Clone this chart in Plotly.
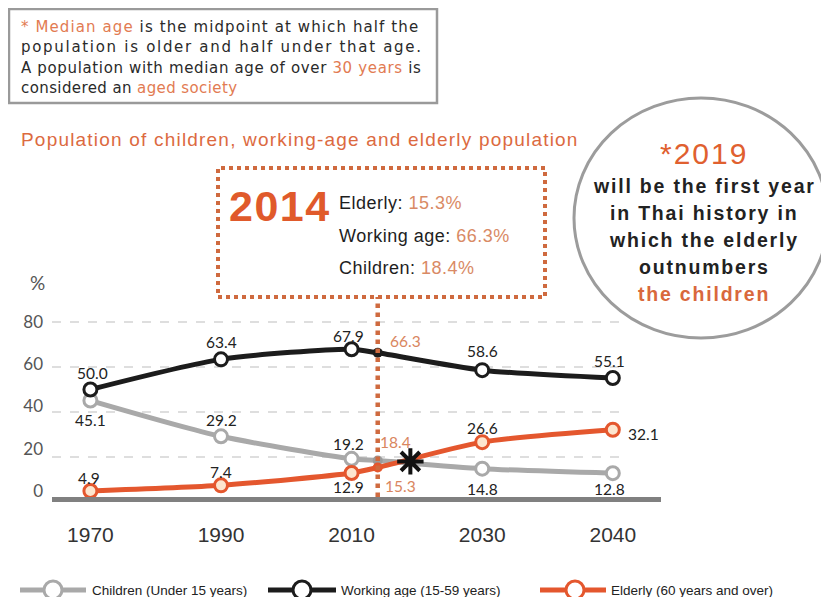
import numpy as np
import plotly.graph_objects as go

# ---------------- data ----------------
years = [1970, 1990, 2010, 2030, 2040]
year_labels = ["1970", "1990", "2010", "2030", "2040"]
children = [45.1, 29.2, 19.2, 14.8, 12.8]
working = [50.0, 63.4, 67.9, 58.6, 55.1]
elderly = [4.9, 7.4, 12.9, 26.6, 32.1]

highlight_year = 2014
hl_children = 18.4
hl_working = 66.3
hl_elderly = 15.3
crossover_year = 2019

y_ticks = [0, 20, 40, 60, 80]

# ---------------- geometry helpers ----------------
# the page body has an 8px default margin, so page pixel p -> figure pixel p-8
OFF = 8
W, H = 829, 597
PLOT_L, PLOT_R, PLOT_T, PLOT_B = 52, 661, 300, 497   # page pixels of the plot area
ML = PLOT_L - OFF
MT = PLOT_T - OFF
MR = W - (PLOT_R - OFF)
MB = H - (PLOT_B - OFF)
PW, PH = PLOT_R - PLOT_L, PLOT_B - PLOT_T


def X(px):
    return (px - PLOT_L) / PW


def Y(py):
    return (PLOT_B - py) / PH


def yrange(y80_px, y0_px):
    # value range of an axis whose 80 sits at y80_px and 0 at y0_px (page pixels)
    ppu = (y0_px - y80_px) / 80.0
    lo = (y0_px - PLOT_B) / ppu
    return [lo, lo + PH / ppu]


idx = list(range(len(years)))


def pos(year):
    return float(np.interp(year, years, idx))


hx = pos(highlight_year)


def with_hl(vals, hv):
    xs = idx[:3] + [hx] + idx[3:]
    ys = vals[:3] + [hv] + vals[3:]
    return xs, ys


def ls(text, px):
    return f"<span style='letter-spacing:{px}px'>{text}</span>"


GRAY = "#a9a9a9"
BLACK = "#1c1c1c"
ORANGE = "#e4572e"
DOT = "#cf6a3f"

fig = go.Figure()

series = [
    ("Children (Under 15 years)", children, hl_children, GRAY, "white"),
    ("Working age (15-59 years)", working, hl_working, BLACK, "white"),
    ("Elderly (60 years and over)", elderly, hl_elderly, ORANGE, "#fde6cf"),
]
for name, vals, hv, col, fill in series:
    xs, ys = with_hl(vals, hv)
    fig.add_trace(go.Scatter(x=xs, y=ys, mode="lines", line=dict(color=col, width=5, shape="spline", smoothing=0.7),
                             showlegend=False, hoverinfo="skip", cliponaxis=False))
    fig.add_trace(go.Scatter(x=idx, y=vals, mode="markers", name=name,
                             marker=dict(size=13, color=fill, line=dict(color=col, width=3)),
                             showlegend=False, cliponaxis=False))
    fig.add_trace(go.Scatter(x=[hx], y=[hv], mode="markers",
                             marker=dict(size=10, color=col if col != GRAY else "#9a9a9a"),
                             showlegend=False, cliponaxis=False))

# crossover asterisk
cx = pos(crossover_year)
cy = (float(np.interp(crossover_year, [highlight_year, years[3]], [hl_children, children[3]])) +
      float(np.interp(crossover_year, [highlight_year, years[3]], [hl_elderly, elderly[3]]))) / 2
fig.add_trace(go.Scatter(x=[cx], y=[cy], mode="markers",
                         marker=dict(symbol="asterisk-open", size=22, color="#111", line=dict(color="#111", width=4)),
                         showlegend=False, cliponaxis=False))

# invisible trace that carries the tick-label axis
fig.add_trace(go.Scatter(x=[idx[0]], y=[y_ticks[0]], yaxis="y2", mode="markers",
                         marker=dict(opacity=0), showlegend=False, hoverinfo="skip"))

anns = []
LBL = dict(family="Lato, DejaVu Sans, sans-serif", size=15.5, color="#222")
LBL_O = dict(family="Lato, DejaVu Sans, sans-serif", size=15.5, color="#d98660")

# data labels (dx, dy in pixels, dy positive = up)
work_off = [(2, 17), (0, 17), (-3, 13), (0, 19), (-3, 17)]
child_off = [(0, -19), (0, 16), (-3, 15), (0, -20), (-3, -16)]
eld_off = [(-1, 13), (0, 13), (-3, -14), (0, 14), (31, -4)]
for vals, offs in [(working, work_off), (children, child_off), (elderly, eld_off)]:
    for i, v in enumerate(vals):
        dx, dy = offs[i]
        anns.append(dict(x=idx[i], y=v, xref="x", yref="y", text=f"{v:.1f}", showarrow=False,
                         xanchor="center", yanchor="middle", xshift=dx, yshift=dy, font=LBL))
anns.append(dict(x=hx, y=hl_working, text=f"{hl_working:.1f}", showarrow=False, xanchor="center", yanchor="middle",
                 xshift=28, yshift=12, font=LBL_O))
anns.append(dict(x=hx, y=hl_children, text=f"{hl_children:.1f}", showarrow=False, xanchor="center",
                 yanchor="middle", xshift=18, yshift=19, font=LBL_O))
anns.append(dict(x=hx, y=hl_elderly, text=f"{hl_elderly:.1f}", showarrow=False, xanchor="center",
                 yanchor="middle", xshift=23, yshift=-18, font=LBL_O))


def pann(px, py, text, font, xanchor="left"):
    anns.append(dict(x=X(px), y=Y(py), xref="paper", yref="paper", text=text, showarrow=False,
                     xanchor=xanchor, yanchor="middle", font=font))


# % label
pann(37, 282, "%", dict(family="Lato, sans-serif", size=19, color="#555"), "center")

# info box text (justified look via per-line spacing)
OR_TXT = "#e27b52"
box_lines = [
    f"<span style='color:{OR_TXT}'>* Median age</span> is the midpoint at which half the",
    "population is older and half under that age.",
    f"A population with median age of over <span style='color:{OR_TXT}'>30 years</span> is",
    f"considered an <span style='color:{OR_TXT}'>aged society</span>",
]
box_spacing = [1.1, 1.7, 0.65, 0.4]
for i, t in enumerate(box_lines):
    pann(19, 27 + i * 20.3, ls(t, box_spacing[i]), dict(family="DejaVu Sans, sans-serif", size=15, color="#2a2a2a"))

# chart title
pann(19, 139, ls("Population of children, working-age and elderly population", 1.2),
     dict(family="Liberation Sans, Arial, sans-serif", size=19, color="#dc6a3f"))

# 2014 box
pann(227, 206, ls(f"<b>{highlight_year}</b>", 1.5),
     dict(family="Liberation Sans, Arial, sans-serif", size=43, color="#e05a2b"))
OV = "#d98a65"
box2 = [
    f"Elderly: <span style='color:{OV}'>{hl_elderly}%</span>",
    f"Working age: <span style='color:{OV}'>{hl_working}%</span>",
    f"Children: <span style='color:{OV}'>{hl_children}%</span>",
]
for i, t in enumerate(box2):
    pann(337, 203 + i * 32.5, ls(t, 0.5), dict(family="Liberation Sans, Arial, sans-serif", size=18, color="#1e1e1e"))

# circle text
CXP = 704
pann(CXP, 153, ls("*2019", 2), dict(family="Liberation Sans, Arial, sans-serif", size=30, color="#e0602f"), "center")
circ_lines = ["will be the first year", "in Thai history in", "which the elderly", "outnumbers"]
for i, t in enumerate(circ_lines):
    pann(CXP, 186 + i * 27, ls(f"<b>{t}</b>", 1.8),
         dict(family="Liberation Sans, Arial, sans-serif", size=19.5, color="#222"), "center")
pann(CXP, 294, ls("<b>the children</b>", 1.8),
     dict(family="Liberation Sans, Arial, sans-serif", size=19.5, color="#d9683c"), "center")

shapes = []
for v in y_ticks[1:]:
    shapes.append(dict(type="line", xref="paper", yref="y", x0=0, x1=X(625), y0=v, y1=v,
                       line=dict(color="#bdbdbd", width=1, dash="dash"), layer="below"))
shapes.append(dict(type="rect", xref="paper", yref="paper", x0=X(9), x1=X(437), y0=Y(103), y1=Y(9),
                   line=dict(color="#9a9a9a", width=2.5)))
shapes.append(dict(type="rect", xref="paper", yref="paper", x0=X(218), x1=X(545), y0=Y(297), y1=Y(168),
                   line=dict(color=DOT, width=4, dash="dot")))
shapes.append(dict(type="line", xref="x", yref="paper", x0=hx, x1=hx, y0=0, y1=Y(297),
                   line=dict(color=DOT, width=4.5, dash="dot")))
shapes.append(dict(type="circle", xref="paper", yref="paper", x0=X(574), x1=X(828), y0=Y(338), y1=Y(98),
                   line=dict(color="#9c9c9c", width=3), fillcolor="white", layer="above"))

# custom legend
LEG_Y = 590
legend_items = [
    (series[0][0], GRAY, 20, 86, 53, 90),
    (series[1][0], BLACK, 268, 336, 302, 339),
    (series[2][0], ORANGE, 540, 606, 575, 609),
]
for name, col, a, b, c, tx in legend_items:
    shapes.append(dict(type="line", xref="paper", yref="paper", x0=X(a), x1=X(b), y0=Y(LEG_Y), y1=Y(LEG_Y),
                       line=dict(color=col, width=5)))
    shapes.append(dict(type="circle", xref="paper", yref="paper", xsizemode="pixel", ysizemode="pixel",
                       xanchor=X(c), yanchor=Y(LEG_Y), x0=-9, x1=9, y0=-9, y1=9,
                       line=dict(color=col, width=3), fillcolor="white"))
    pann(tx, LEG_Y, name, dict(family="Liberation Sans Narrow, Arial Narrow, sans-serif", size=13.5, color="#222"))

fig.update_layout(
    width=W, height=H,
    margin=dict(l=ML, r=MR, t=MT, b=MB, autoexpand=False),
    paper_bgcolor="white", plot_bgcolor="white",
    showlegend=False,
    annotations=anns, shapes=shapes,
    xaxis=dict(range=[-0.294, 4.369], tickmode="array", tickvals=idx,
               ticktext=year_labels, showgrid=False, zeroline=False, showline=True, linecolor="#808080",
               linewidth=5, ticks="", ticklabelstandoff=15,
               tickfont=dict(family="Liberation Sans Narrow, Arial Narrow, sans-serif", size=21, color="#333")),
    yaxis=dict(range=yrange(322, 502), showticklabels=False, showgrid=False, zeroline=False,
               showline=False, ticks=""),
    yaxis2=dict(overlaying="y", side="left", range=yrange(322, 491), tickmode="array", tickvals=y_ticks,
                showgrid=False, zeroline=False, showline=False, ticks="", ticklabelstandoff=8,
                tickfont=dict(family="Lato, sans-serif", size=17, color="#555")),
)

fig.write_html("out.html")
